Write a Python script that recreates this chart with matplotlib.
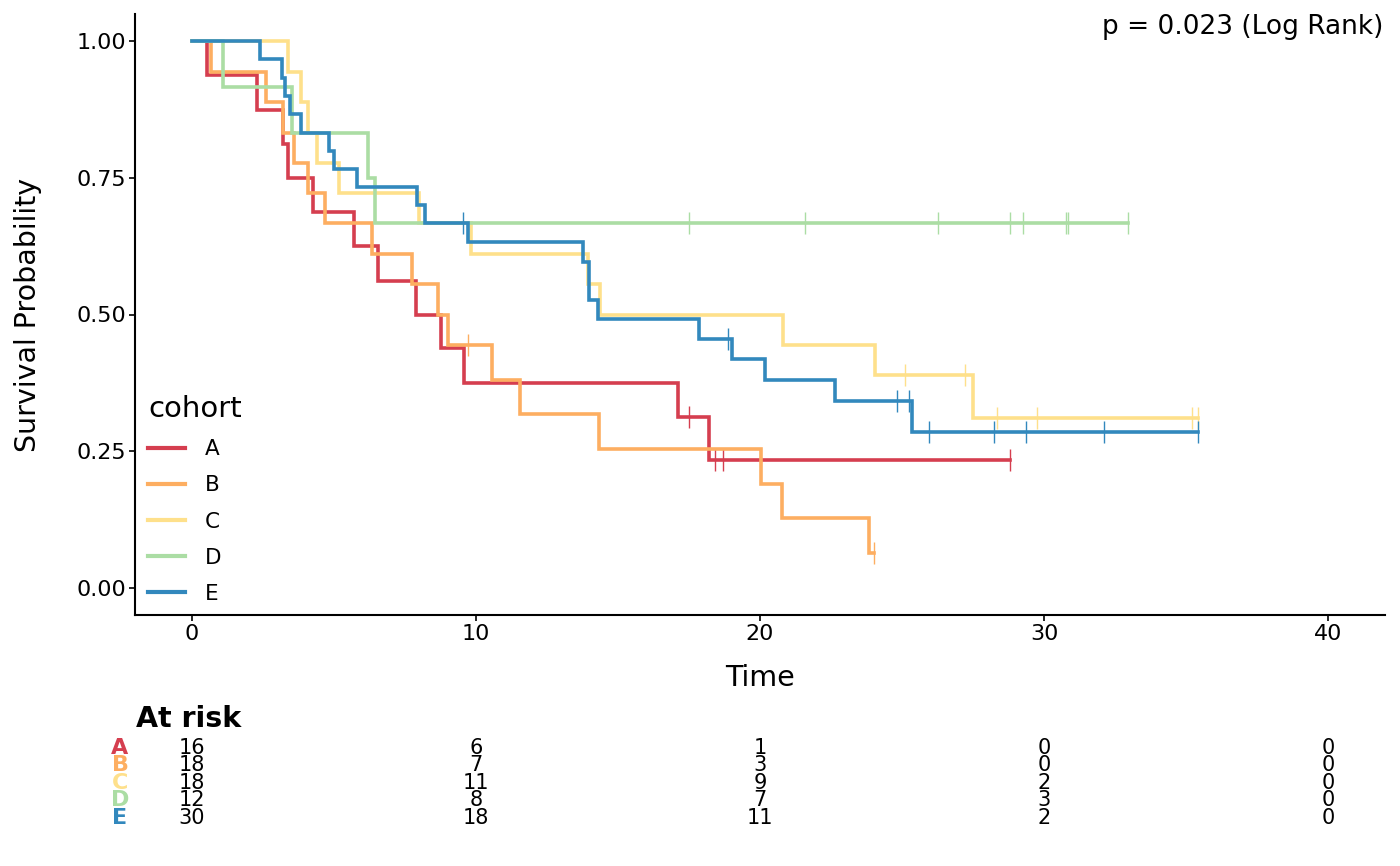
import numpy as np
import matplotlib
matplotlib.use("Agg")
import matplotlib.pyplot as plt
from matplotlib import transforms

# Kaplan-Meier steps: event times and survival after each event
cohorts = ["A", "B", "C", "D", "E"]
colors = ["#D53E4F", "#FDAE61", "#FEE08B", "#ABDDA4", "#3288BD"]

A_times = [0.55, 2.3, 3.2, 3.37, 4.25, 5.7, 6.55, 7.9, 8.77, 9.57, 17.13, 18.2]
A_surv = [0.938, 0.875, 0.812, 0.75, 0.688, 0.625, 0.562, 0.5, 0.438, 0.375, 0.312, 0.234]
A_censor = [17.5, 18.4, 18.7, 28.8]

B_times = [0.69, 2.6, 3.2, 3.6, 4.1, 4.7, 6.34, 7.75, 8.67, 9.03, 10.55, 11.55,
           14.32, 20.02, 20.76, 23.85]
B_surv = [0.944, 0.889, 0.833, 0.778, 0.722, 0.667, 0.611, 0.556, 0.5, 0.444, 0.381,
          0.317, 0.254, 0.190, 0.127, 0.063]
B_censor = [9.73, 24.0]

C_times = [3.37, 3.86, 4.1, 4.4, 5.19, 7.98, 9.82, 13.93, 14.38, 20.82, 24.05, 27.5]
C_surv = [0.944, 0.889, 0.833, 0.778, 0.722, 0.667, 0.611, 0.556, 0.5, 0.444, 0.389, 0.311]
C_censor = [25.1, 27.2, 28.33, 29.74, 35.2, 35.4]

D_times = [1.08, 3.54, 6.19, 6.45]
D_surv = [0.917, 0.833, 0.75, 0.667]
D_censor = [17.49, 21.6, 26.26, 28.79, 29.25, 30.77, 30.83, 32.95]

E_times = [2.39, 3.19, 3.29, 3.45, 3.86, 4.84, 4.99, 5.8, 7.92, 8.2, 9.71, 13.76,
           13.99, 14.28, 17.87, 19.0, 20.18, 22.64, 25.36]
E_surv = [0.967, 0.933, 0.9, 0.867, 0.833, 0.8, 0.767, 0.733, 0.7, 0.667, 0.632,
          0.597, 0.526, 0.491, 0.456, 0.418, 0.380, 0.342, 0.285]
E_censor = [9.53, 18.86, 24.81, 25.24, 25.94, 28.22, 29.35, 32.12, 35.43]

risk_times = [0, 10, 20, 30, 40]
A_risk = [16, 6, 1, 0, 0]
B_risk = [18, 7, 3, 0, 0]
C_risk = [18, 11, 9, 2, 0]
D_risk = [12, 8, 7, 3, 0]
E_risk = [30, 18, 11, 2, 0]

p_text = "p = 0.023 (Log Rank)"

all_times = [A_times, B_times, C_times, D_times, E_times]
all_surv = [A_surv, B_surv, C_surv, D_surv, E_surv]
all_censor = [A_censor, B_censor, C_censor, D_censor, E_censor]
all_risk = [A_risk, B_risk, C_risk, D_risk, E_risk]

W, H = 1400, 866
fig = plt.figure(figsize=(W / 100, H / 100), dpi=100)
ax = fig.add_axes([135 / W, 1 - 615 / H, 1250 / W, 601 / H])

for name, col, t, s, c in zip(cohorts, colors, all_times, all_surv, all_censor):
    end = max(max(t), max(c))
    xs = [0.0] + list(t) + [end]
    ys = [1.0] + list(s) + [s[-1]]
    ax.plot(xs, ys, drawstyle="steps-post", color=col, lw=2.6, label=name,
            solid_joinstyle="miter")
    # censor ticks sit on the curve level at that time
    levels = np.array([1.0] + list(s))
    idx = np.searchsorted(np.array(t), np.array(c), side="right")
    ax.plot(c, levels[idx], ls="none", marker="|", ms=15.5, mew=1.0, color=col)

ax.set_xlim(-2, 42)
ax.set_ylim(-0.05, 1.05)
ax.set_xticks([0, 10, 20, 30, 40])
ax.set_yticks([0, 0.25, 0.5, 0.75, 1.0])
ax.set_yticklabels(["0.00", "0.25", "0.50", "0.75", "1.00"])
for side in ["top", "right"]:
    ax.spines[side].set_visible(False)
for side in ["left", "bottom"]:
    ax.spines[side].set_linewidth(1.5)
ax.tick_params(direction="out", length=4.5, width=1.2, labelsize=16, pad=2)

fig.text(28 / W, 1 - 315 / H, "Survival Probability", rotation=90,
         ha="center", va="center", fontsize=20.5)
fig.text(760 / W, 1 - 678 / H, "Time", ha="center", va="center", fontsize=20.5)

ax.text(0.9985, 0.978, p_text, transform=ax.transAxes, ha="right", va="center",
        fontsize=19)

leg = ax.legend(title="cohort", loc="lower left", bbox_to_anchor=(0.0, -0.003),
                frameon=False, fontsize=15.5, title_fontsize=21,
                handlelength=1.7, handletextpad=0.95, labelspacing=0.75,
                borderaxespad=0.3, borderpad=0.3, alignment="left")
for h in leg.get_lines():
    h.set_linewidth(3)

# at-risk table
fig.text(136 / W, 1 - 719 / H, "At risk", ha="left", va="center",
         fontsize=20.5, fontweight="bold")
tr = transforms.blended_transform_factory(ax.transData, fig.transFigure)
row_y = [747.7, 765.2, 782.7, 800.2, 817.7]
for name, col, risk, y in zip(cohorts, colors, all_risk, row_y):
    fig.text(120 / W, 1 - y / H, name, ha="center", va="center", fontsize=16,
             fontweight="bold", color=col)
    for t, n in zip(risk_times, risk):
        fig.text(t, 1 - y / H, str(n), transform=tr, ha="center", va="center",
                 fontsize=15)

fig.savefig("out.png", dpi=100)
